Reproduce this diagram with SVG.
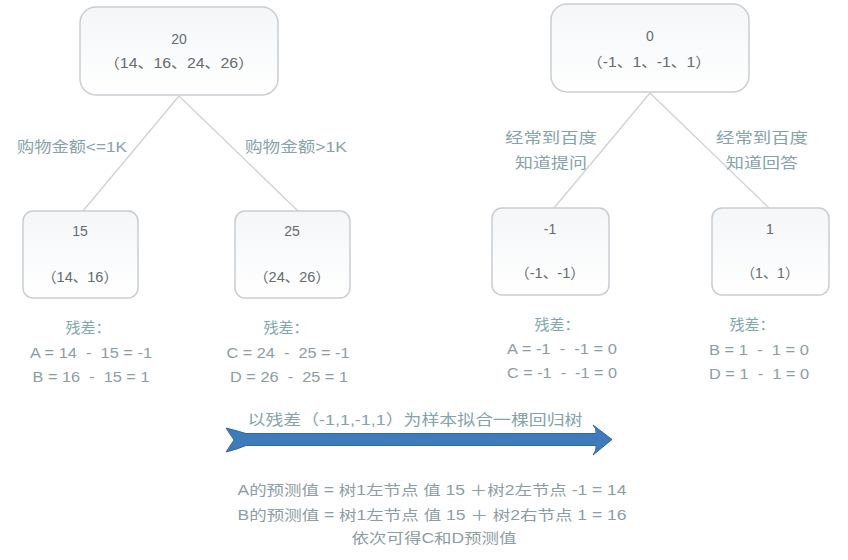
<svg xmlns="http://www.w3.org/2000/svg" width="848" height="560" viewBox="0 0 848 560">
<defs>
<linearGradient id="g" x1="0" y1="0" x2="0" y2="1">
<stop offset="0" stop-color="#f4f6f8"/>
<stop offset="1" stop-color="#ffffff"/>
</linearGradient>
<style>
.box{fill:url(#g);stroke:#c9cdd2;stroke-width:1.5}
.nt{font-family:"Liberation Sans","Noto Sans CJK SC",sans-serif;font-size:14px;fill:#666b6e;text-anchor:middle}
.lb{font-family:"Liberation Sans","Noto Sans CJK SC",sans-serif;font-size:15px;fill:#86a3aa;text-anchor:middle}
.rs{font-family:"Liberation Sans","Noto Sans CJK SC",sans-serif;font-size:15px;fill:#7fa9ad;text-anchor:middle}
.eq{font-family:"Liberation Sans","Noto Sans CJK SC",sans-serif;font-size:14px;fill:#8e9da3;text-anchor:middle;white-space:pre}
.ln{stroke:#cfd2d4;stroke-width:1.3;fill:none}
</style>
</defs>
<rect width="848" height="560" fill="#ffffff"/>
<g id="connectors">
<line class="ln" x1="179" y1="96" x2="83" y2="211"/>
<line class="ln" x1="179" y1="96" x2="298" y2="211"/>
<line class="ln" x1="650" y1="93" x2="554" y2="208"/>
<line class="ln" x1="650" y1="93" x2="769" y2="208"/>
</g>
<g id="edge-labels">
<text class="lb" x="72" y="152" textLength="110" lengthAdjust="spacingAndGlyphs">购物金额&lt;=1K</text>
<text class="lb" x="296" y="152" textLength="102" lengthAdjust="spacingAndGlyphs">购物金额&gt;1K</text>
<text class="lb" x="551" y="143" textLength="92" lengthAdjust="spacingAndGlyphs">经常到百度</text>
<text class="lb" x="551" y="168" textLength="72" lengthAdjust="spacingAndGlyphs">知道提问</text>
<text class="lb" x="762" y="143" textLength="92" lengthAdjust="spacingAndGlyphs">经常到百度</text>
<text class="lb" x="762" y="168" textLength="72" lengthAdjust="spacingAndGlyphs">知道回答</text>
</g>
<g id="root1">
<rect class="box" x="80" y="7" width="198" height="88" rx="16"/>
<text class="nt" x="179" y="44">20</text>
<text class="nt" x="179" y="68" textLength="150" lengthAdjust="spacingAndGlyphs">（14、16、24、26）</text>
</g>
<g id="leaf15">
<rect class="box" x="23" y="211" width="115" height="87" rx="10"/>
<text class="nt" x="80" y="236">15</text>
<text class="nt" x="80" y="282" textLength="76" lengthAdjust="spacingAndGlyphs">（14、16）</text>
</g>
<g id="leaf25">
<rect class="box" x="235" y="211" width="115" height="87" rx="10"/>
<text class="nt" x="292" y="236">25</text>
<text class="nt" x="292" y="282" textLength="76" lengthAdjust="spacingAndGlyphs">（24、26）</text>
</g>
<g id="root2">
<rect class="box" x="551" y="4" width="198" height="88" rx="16"/>
<text class="nt" x="650" y="41">0</text>
<text class="nt" x="649" y="67" textLength="124" lengthAdjust="spacingAndGlyphs">（-1、1、-1、1）</text>
</g>
<g id="leafm1">
<rect class="box" x="492" y="208" width="117" height="87" rx="10"/>
<text class="nt" x="550" y="234">-1</text>
<text class="nt" x="550" y="278" textLength="70" lengthAdjust="spacingAndGlyphs">（-1、-1）</text>
</g>
<g id="leaf1">
<rect class="box" x="712" y="208" width="117" height="87" rx="10"/>
<text class="nt" x="770" y="234">1</text>
<text class="nt" x="770" y="278" textLength="58" lengthAdjust="spacingAndGlyphs">（1、1）</text>
</g>
<g id="residuals">
<text class="rs" x="88" y="333">残差：</text>
<text class="eq" x="91" y="358" textLength="122" lengthAdjust="spacingAndGlyphs">A = 14  -  15 = -1</text>
<text class="eq" x="91" y="382" textLength="117" lengthAdjust="spacingAndGlyphs">B = 16  -  15 = 1</text>
<text class="rs" x="286" y="333">残差：</text>
<text class="eq" x="288" y="358" textLength="123" lengthAdjust="spacingAndGlyphs">C = 24  -  25 = -1</text>
<text class="eq" x="289" y="382" textLength="118" lengthAdjust="spacingAndGlyphs">D = 26  -  25 = 1</text>
<text class="rs" x="557" y="330">残差：</text>
<text class="eq" x="562" y="354" textLength="110" lengthAdjust="spacingAndGlyphs">A = -1  -  -1 = 0</text>
<text class="eq" x="562" y="378" textLength="110" lengthAdjust="spacingAndGlyphs">C = -1  -  -1 = 0</text>
<text class="rs" x="752" y="330">残差：</text>
<text class="eq" x="759" y="355" textLength="100" lengthAdjust="spacingAndGlyphs">B = 1  -  1 = 0</text>
<text class="eq" x="759" y="379" textLength="100" lengthAdjust="spacingAndGlyphs">D = 1  -  1 = 0</text>
</g>
<g id="arrow">
<text class="lb" x="415" y="425" textLength="335" lengthAdjust="spacingAndGlyphs">以残差（-1,1,-1,1）为样本拟合一棵回归树</text>
<path d="M226,428 Q238,431 246,433.5 L596,433.5 Q597,429 593,425 L612,439.5 L593,455 Q597,450 596,445.5 L246,445.5 Q238,449 226,452 L234,440 Z" fill="#3f7bbb" stroke="#33679d" stroke-width="1"/>
</g>
<g id="summary">
<text class="eq" x="432" y="495" textLength="389" lengthAdjust="spacingAndGlyphs">A的预测值 = 树1左节点 值 15 ＋树2左节点 -1 = 14</text>
<text class="eq" x="432" y="520" textLength="389" lengthAdjust="spacingAndGlyphs">B的预测值 = 树1左节点 值 15 ＋ 树2右节点 1 = 16</text>
<text class="eq" x="434" y="543" textLength="165" lengthAdjust="spacingAndGlyphs">依次可得C和D预测值</text>
</g>
</svg>
